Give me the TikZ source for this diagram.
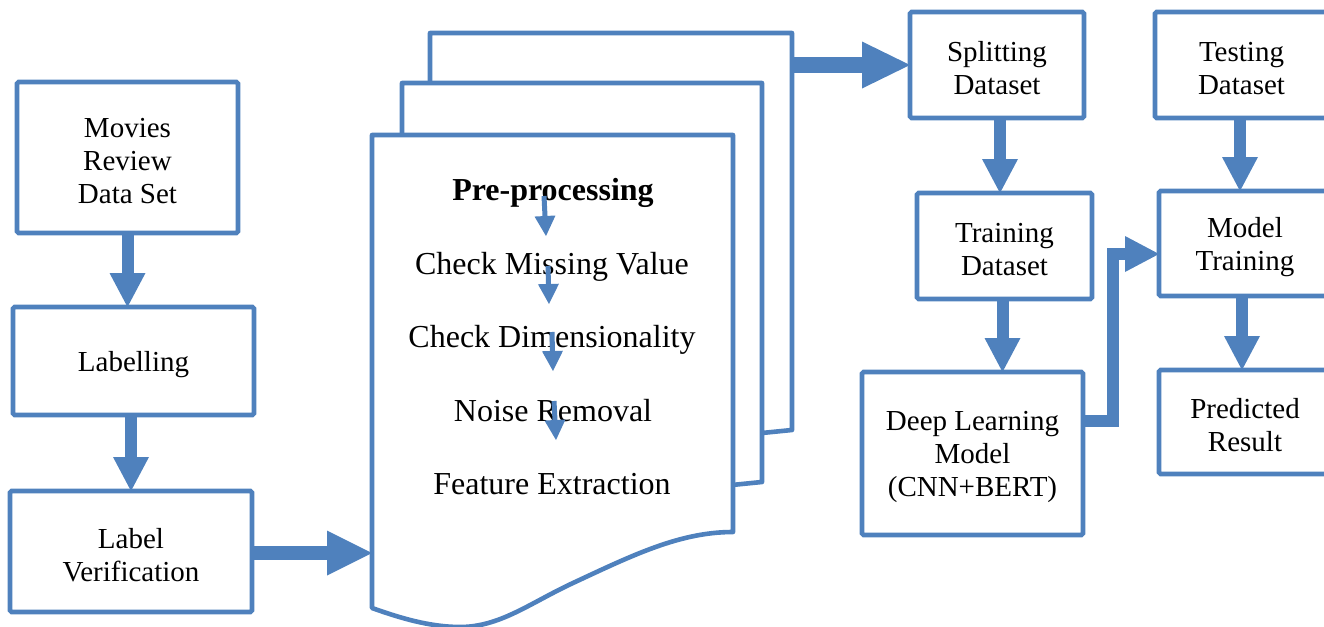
\documentclass[tikz,border=0pt]{standalone}
\usepackage{fontspec}
\setmainfont{Liberation Serif}
\usetikzlibrary{arrows.meta,calc}
\definecolor{ob}{HTML}{4F81BD}
\newcommand\boxfont{\fontsize{14.5}{16.5}\selectfont}
\newcommand\docfont{\fontsize{16}{19}\selectfont}
\begin{document}
\begin{tikzpicture}[x=0.5pt,y=-0.5pt,
  box/.style 2 args={draw=ob, line width=2.3pt, fill=white, minimum width=#1*0.5pt,
    minimum height=#2*0.5pt, inner sep=0pt, outer sep=0pt, rounded corners=0.8pt},
  boxtext/.style={align=center, font=\boxfont, inner sep=0pt},
  docline/.style={draw=ob, line width=2.3pt, fill=white, line join=round},
  doctext/.style={font=\docfont, anchor=base, inner sep=0pt},
  bigarr/.style={draw=ob, line width=6pt, line join=miter,
    -{Triangle[width=18pt,length=17pt,line width=0pt]}},
  harr/.style={draw=ob, line width=7pt,
    -{Triangle[width=22.5pt,length=22.5pt,line width=0pt]}},
  splitarr/.style={draw=ob, line width=8pt,
    -{Triangle[width=23.5pt,length=24pt,line width=0pt]}},
  smallarr/.style={draw=ob, line width=2.5pt,
    -{Triangle[width=10.5pt,length=10pt,line width=0pt]}}]
\useasboundingbox (0,0) rectangle (1324,627);
\clip (0,0) rectangle (1324,627);

% left column
\node[box={221}{151}] (movies) at (127.5,157.5) {};
\node[boxtext] (moviest) at ($(movies)+(0,3.5)$) {Movies\\Review\\Data Set};
\node[box={241}{108}] (labl) at (133.5,361) {};
\node[boxtext] (lablt) at ($(labl)+(0,3.5)$) {Labelling};
\node[box={242}{121}] (lv) at (131,551.5) {};
\node[boxtext] (lvt) at ($(lv)+(0,3.5)$) {Label\\Verification};

% multi-document
\draw[docline] (430,33) -- (792,33) -- (792,430) -- (430,466) -- cycle;
\draw[docline] (402,83) -- (762,83) -- (762,482) -- (402,518) -- cycle;
\draw[docline] (372,135) -- (733,135) -- (733,532)
  .. controls (680,532) and (633,555) .. (573,583)
  .. controls (530,603) and (500,627) .. (460,627)
  .. controls (430,627) and (400,618) .. (372,608) -- cycle;
\coordinate (docin) at (372,553);
\coordinate (docout) at (792,65);

\node[doctext] (pre) at (553,200) {\bfseries Pre-processing};
\node[doctext] (cmv) at (552,274) {Check Missing Value};
\node[doctext] (cd) at (552,347) {Check Dimensionality};
\node[doctext] (nr) at (553,421) {Noise Removal};
\node[doctext] (fe) at (552,494) {Feature Extraction};

\coordinate (a1s) at (544,196); \coordinate (a1e) at (546,236);
\coordinate (a2s) at (548,266); \coordinate (a2e) at (549,304);
\coordinate (a3s) at (552,332); \coordinate (a3e) at (553,371);
\coordinate (a4s) at (554,401); \coordinate (a4e) at (556,440);
\draw[smallarr] (a1s) -- (a1e);
\draw[smallarr] (a2s) -- (a2e);
\draw[smallarr] (a3s) -- (a3e);
\draw[smallarr] (a4s) -- (a4e);

% right part
\node[box={174}{106}] (split) at (997,65) {};
\node[boxtext] (splitt) at ($(split)+(0,3.5)$) {Splitting\\Dataset};
\node[box={175}{106}] (train) at (1004.5,246) {};
\node[boxtext] (traint) at ($(train)+(0,3.5)$) {Training\\Dataset};
\node[box={221}{163}] (dl) at (972.5,453.5) {};
\node[boxtext] (dlt) at ($(dl)+(0,3.5)$) {Deep Learning\\Model\\(CNN+BERT)};
\node[box={173}{106}] (test) at (1241.5,65) {};
\node[boxtext] (testt) at ($(test)+(0,3.5)$) {Testing\\Dataset};
\node[box={172}{105}] (mt) at (1245,243.5) {};
\node[boxtext] (mtt) at ($(mt)+(0,3.5)$) {Model\\Training};
\node[box={172}{104}] (pred) at (1245,422) {};
\node[boxtext] (predt) at ($(pred)+(0,3.5)$) {Predicted\\Result};

% connectors
\draw[bigarr] (movies.south) -- (movies.south |- labl.north);
\draw[bigarr] (lv.north |- labl.south) -- (lv.north);
\draw[harr] (lv.east |- docin) -- (docin);
\draw[splitarr] (docout) -- (split.west);
\draw[bigarr] ($(split.south)+(3,0)$) -- ($(split.south |- train.north)+(3,0)$);
\draw[bigarr] ($(train.south)+(-2,0)$) -- ($(train.south |- dl.north)+(-2,0)$);
\draw[bigarr] ($(dl.east)+(0,-32.5)$) -| (1113,254) -- ($(mt.west)+(0,10.5)$);
\draw[bigarr] ($(test.south)+(-1.5,0)$) -- ($(test.south |- mt.north)+(-1.5,0)$);
\draw[bigarr] ($(mt.south)+(-3,0)$) -- ($(mt.south |- pred.north)+(-3,0)$);
\end{tikzpicture}
\end{document}
